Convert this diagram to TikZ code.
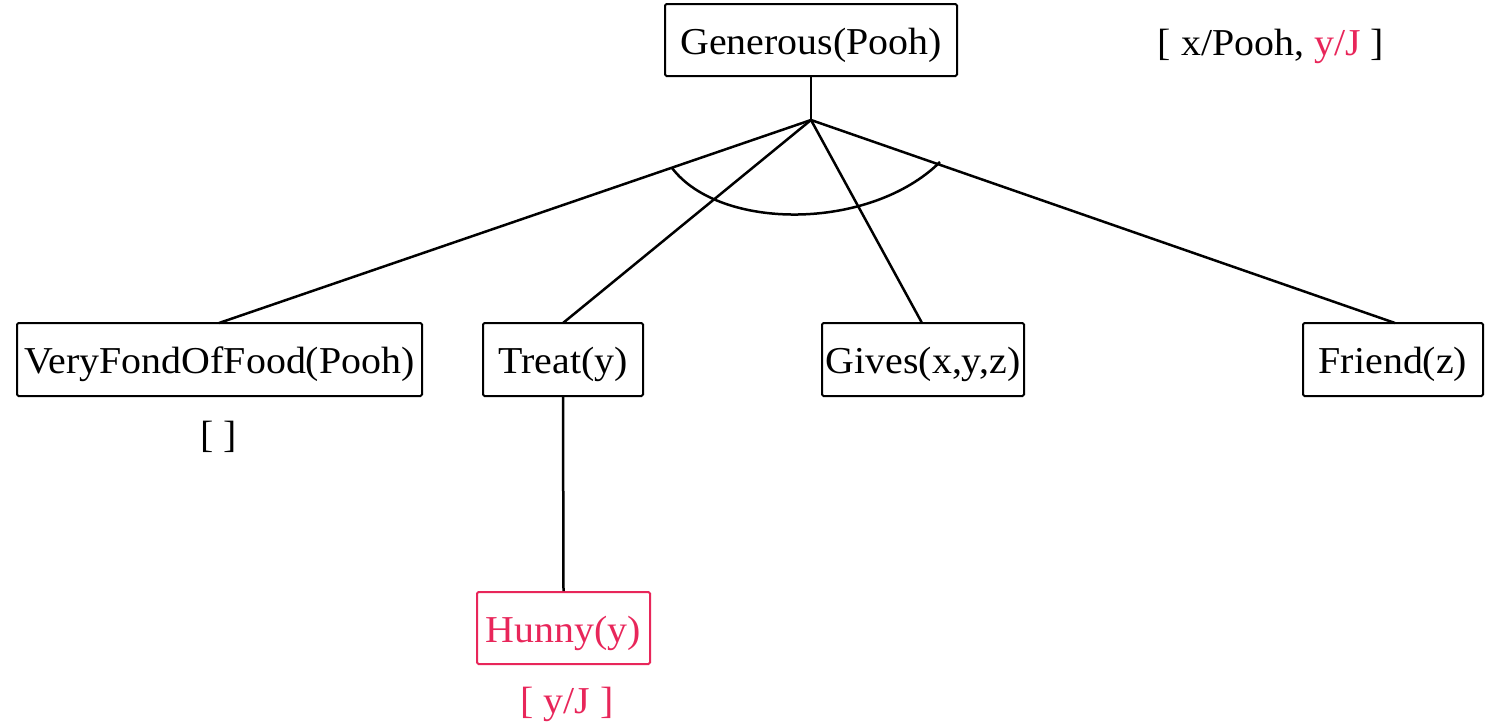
\documentclass[tikz,border=0pt]{standalone}
\usepackage{fontspec}
\setmainfont[FakeStretch=1.05]{Liberation Serif}
\definecolor{hred}{RGB}{232,38,90}
\begin{document}
\begin{tikzpicture}[x=1pt,y=-1pt,
  every node/.style={font=\fontsize{38}{44}\selectfont},
  box/.style={draw,line width=2pt,rounded corners=1.5pt,inner sep=0pt,text height=32pt,text depth=4pt},
  conn/.style={line width=2.5pt}]
\useasboundingbox (0,0) rectangle (1496,724);
\node[box,minimum width=292,minimum height=72] (gen) at (811,40) {Generous(Pooh)};
\node[box,minimum width=405,minimum height=73] (vf) at (219.5,359.5) {VeryFondOfFood(Pooh)};
\node[box,minimum width=160,minimum height=73] (tr) at (563,359.5) {Treat(y)};
\node[box,minimum width=202,minimum height=73] (gv) at (923,359.5) {Gives(x,y,z)};
\node[box,minimum width=180,minimum height=73] (fr) at (1393,359.5) {Friend(z)};
\node[box,draw=hred,text=hred,minimum width=173,minimum height=72] (hu) at (563.5,628) {Hunny(y)};
\node (sub1) at (1271,46) {[ x/Pooh, \textcolor{hred}{y/J} ]};
\node (sub2) at (219,437) {[ ]};
\node[text=hred] (sub3) at (567,704) {[ y/J ]};
\coordinate (hub) at (811,120);
\coordinate (vft) at (219,323);
\coordinate (trt) at (563,323);
\coordinate (gvt) at (922,323);
\coordinate (frt) at (1395,323);
\draw[conn] (gen.south) -- (hub);
\draw[conn] (hub) -- (vft);
\draw[conn] (hub) -- (trt);
\draw[conn] (hub) -- (gvt);
\draw[conn] (hub) -- (frt);
\draw[conn] (tr.south) -- (hu.north);
\coordinate (arcL) at (672,168);
\coordinate (arcR) at (940,162);
\draw[conn] (arcL) .. controls (720,231) and (870,231) .. (arcR);
\end{tikzpicture}
\end{document}
